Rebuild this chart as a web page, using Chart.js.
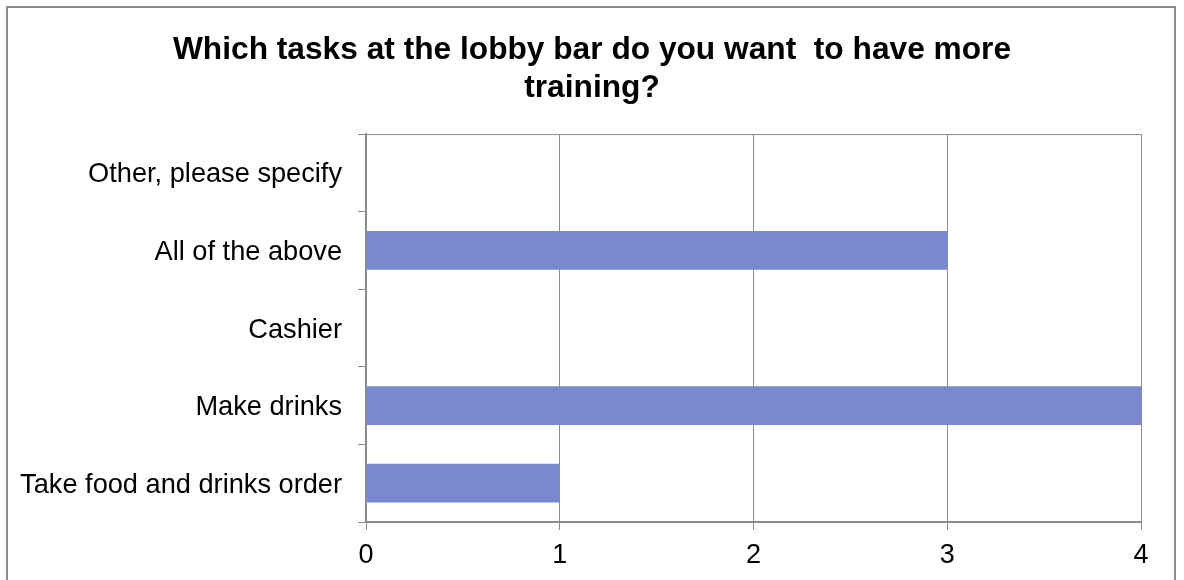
<!DOCTYPE html>
<html>
<head>
<meta charset="utf-8">
<script src="https://cdn.jsdelivr.net/npm/chart.js@4.4.1/dist/chart.umd.min.js"></script>
<style>
  body { margin: 0; background: #fff; }
  #wrap { position: relative; width: 1184px; height: 580px; }
  #frame { position: absolute; left: 6px; top: 6px; width: 1170px; height: 600px; border: 2px solid #8c8c8c; box-sizing: border-box; }
  canvas { position: absolute; left: 0; top: 0; }
</style>
</head>
<body>
<div id="wrap">
  <div id="frame"></div>
  <canvas id="task_chart" width="1184" height="580"></canvas>
</div>
<script>
// survey answers, top to bottom as in the picture
const categories = ['Other, please specify', 'All of the above', 'Cashier', 'Make drinks', 'Take food and drinks order'];
const answers = [0, 3, 0, 4, 1];
const xTicks = [0, 1, 2, 3, 4];

const ctx = document.getElementById('task_chart').getContext('2d');

// top edge of the plot box (the axes do not draw it)
const plotBox = {
    id: 'plotBox',
    afterDraw(chart){
        const {ctx, chartArea: {top, left, right}} = chart;
        ctx.save();
        ctx.strokeStyle = '#8c8c8c';
        ctx.lineWidth = 1;
        ctx.beginPath();
        ctx.moveTo(left, top + 0.5);
        ctx.lineTo(right, top + 0.5);
        ctx.stroke();
        ctx.restore();
    }
};

let taskChart = new Chart(ctx, {
    type: 'bar',
    data: {
        labels: categories,
        datasets: [{
            data: answers,
            backgroundColor: '#7a88cf',
            borderWidth: 0,
            categoryPercentage: 1.0,
            barPercentage: 0.5
        }]
    },
    options: {
        indexAxis: 'y',
        responsive: false,
        animation: false,
        layout: { padding: 0 },
        plugins: {
            legend: { display: false },
            tooltip: { enabled: false },
            title: {
                display: true,
                text: ['Which tasks at the lobby bar do you want  to have more', 'training?'],
                color: '#000',
                font: { family: 'Liberation Sans, Arial, sans-serif', size: 31.7, weight: 'bold' },
                lineHeight: 1.04,
                padding: { top: 31, bottom: 27 }
            }
        },
        scales: {
            x: {
                min: 0,
                max: 4,
                afterBuildTicks(scale){
                    scale.ticks = xTicks.map(v => ({ value: v }));
                },
                afterFit(scale){ scale.height = 58; },
                border: { color: '#8c8c8c', width: 2 },
                grid: { color: '#8c8c8c', lineWidth: 1, tickLength: 8 },
                ticks: {
                    color: '#000',
                    padding: 9,
                    font: { family: 'Liberation Sans, Arial, sans-serif', size: 27 }
                }
            },
            y: {
                afterFit(scale){ scale.width = 366; },
                border: { color: '#8c8c8c', width: 2 },
                grid: { drawOnChartArea: false, color: '#8c8c8c', tickLength: 8, offset: true },
                ticks: {
                    color: '#000',
                    padding: 16,
                    labelOffset: 2,
                    font: { family: 'Liberation Sans, Arial, sans-serif', size: 27.2 }
                }
            },
            // empty right-hand strip so the plot ends where the reference does
            yRight: {
                position: 'right',
                afterFit(scale){ scale.width = 43; },
                border: { display: false },
                grid: { display: false },
                ticks: { display: false }
            }
        }
    },
    plugins: [plotBox]
});
</script>
</body>
</html>
